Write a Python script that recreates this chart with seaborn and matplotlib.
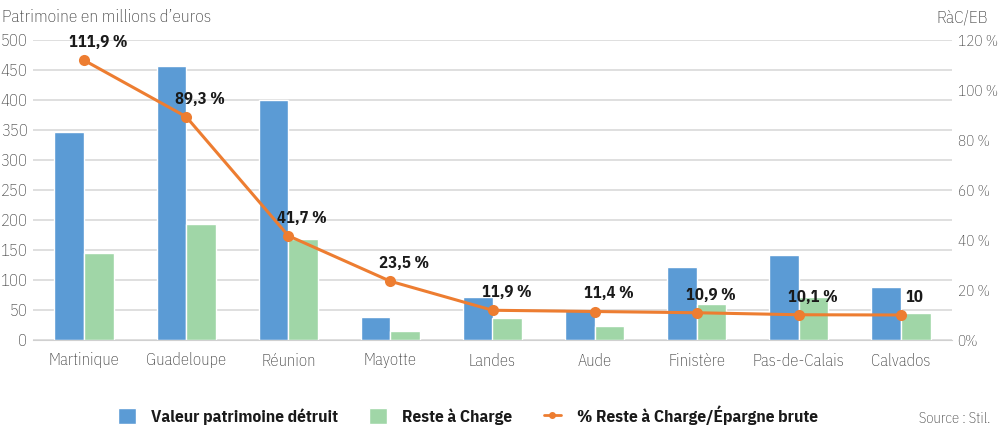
import pandas as pd
import matplotlib
matplotlib.use("Agg")
import matplotlib.pyplot as plt
import seaborn as sns
from matplotlib.lines import Line2D
from matplotlib.patches import Patch

# Data
departements = ["Martinique", "Guadeloupe", "Réunion", "Mayotte", "Landes",
                "Aude", "Finistère", "Pas-de-Calais", "Calvados"]
patrimoine_detruit = [347, 456, 400, 39, 72, 50, 121, 142, 89]
reste_a_charge = [145, 193, 169, 15, 36, 24, 60, 71, 45]
ratio_rac_eb = [111.9, 89.3, 41.7, 23.5, 11.9, 11.4, 10.9, 10.1, 10.0]
ratio_labels = ["111,9 %", "89,3 %", "41,7 %", "23,5 %", "11,9 %",
                "11,4 %", "10,9 %", "10,1 %", "10"]
left_ticks = [0, 50, 100, 150, 200, 250, 300, 350, 400, 450, 500]
right_ticks = [0, 20, 40, 60, 80, 100, 120]
right_tick_labels = ["0%", "20 %", "40 %", "60 %", "80 %", "100 %", "120 %"]

serie_bleue = "Valeur patrimoine détruit"
serie_verte = "Reste à Charge"
serie_ligne = "% Reste à Charge/Épargne brute"

blue = "#5B9BD5"
green = "#A0D6A7"
orange = "#ED7D31"
grey_text = "#3a3a3a"

sns.set_style("white")
plt.rcParams["font.family"] = ["IBM Plex Sans Condensed", "Roboto Condensed",
                               "Liberation Sans Narrow", "DejaVu Sans"]

df = pd.DataFrame({
    "departement": departements * 2,
    "valeur": patrimoine_detruit + reste_a_charge,
    "serie": [serie_bleue] * len(departements) + [serie_verte] * len(departements),
})

fig = plt.figure(figsize=(10, 4.28), dpi=100)
ax = fig.add_axes([0.033, 1 - 340 / 428, 0.919, 300 / 428])

sns.barplot(data=df, x="departement", y="valeur", hue="serie",
            palette=[blue, green], width=0.58, saturation=1,
            legend=False, ax=ax, zorder=2)

ax.set_ylim(0, 500)
ax.set_yticks(left_ticks)
ax.set_xlim(-0.5, len(departements) - 0.5)
ax.grid(axis="y", color="#d9d9d9", linewidth=1.2, zorder=0)
ax.set_axisbelow(True)
ax.set_xlabel("")
ax.set_ylabel("")
ax.tick_params(axis="both", length=0, labelsize=12, colors=grey_text)
ax.tick_params(axis="x", pad=9)
ax.tick_params(axis="y", pad=4)
for lab in ax.get_xticklabels() + ax.get_yticklabels():
    lab.set_fontweight("light")
for s in ["top", "right", "left"]:
    ax.spines[s].set_visible(False)
ax.spines["bottom"].set_color("#d0d0d0")

# Ratio line on secondary axis
ax2 = ax.twinx()
sns.lineplot(x=list(range(len(departements))), y=ratio_rac_eb, ax=ax2,
             color=orange, linewidth=2.2, marker="o", markersize=8,
             markeredgewidth=0, zorder=3)
ax2.set_ylim(0, 120)
ax2.set_yticks(right_ticks)
ax2.set_yticklabels(right_tick_labels)
ax2.tick_params(axis="y", length=0, labelsize=11, colors=grey_text, pad=4)
for lab in ax2.get_yticklabels():
    lab.set_fontweight("light")
for s in ax2.spines.values():
    s.set_visible(False)

for i, (v, lab) in enumerate(zip(ratio_rac_eb, ratio_labels)):
    ax2.annotate(lab, (i, v), xytext=(14, 10), textcoords="offset pixels",
                 ha="center", va="bottom", fontsize=12, fontweight="bold",
                 color="#1a1a1a")

fig.text(0.002, 0.978, "Patrimoine en millions d\u2019euros", ha="left", va="top",
         fontsize=12.5, fontweight="light", color=grey_text)
fig.text(0.988, 0.978, "RàC/EB", ha="right", va="top", fontsize=12.5,
         fontweight="light", color=grey_text)

handles = [
    Patch(facecolor=blue, label=serie_bleue),
    Patch(facecolor=green, label=serie_verte),
    Line2D([0], [0], color=orange, marker="o", markersize=4, linewidth=2,
           label=serie_ligne),
]
leg = fig.legend(handles=handles, loc="center", bbox_to_anchor=(0.468, 0.03),
                 ncol=3, frameon=False, handlelength=1.0, handleheight=1.0,
                 columnspacing=1.8, handletextpad=0.9,
                 prop={"weight": "bold", "size": 12.5})
for t in leg.get_texts():
    t.set_color("#1a1a1a")

fig.text(0.99, 0.022, "Source : Stil.", ha="right", va="center",
         fontsize=10.5, fontweight="light", color=grey_text)

fig.savefig("out.png", dpi=100)
